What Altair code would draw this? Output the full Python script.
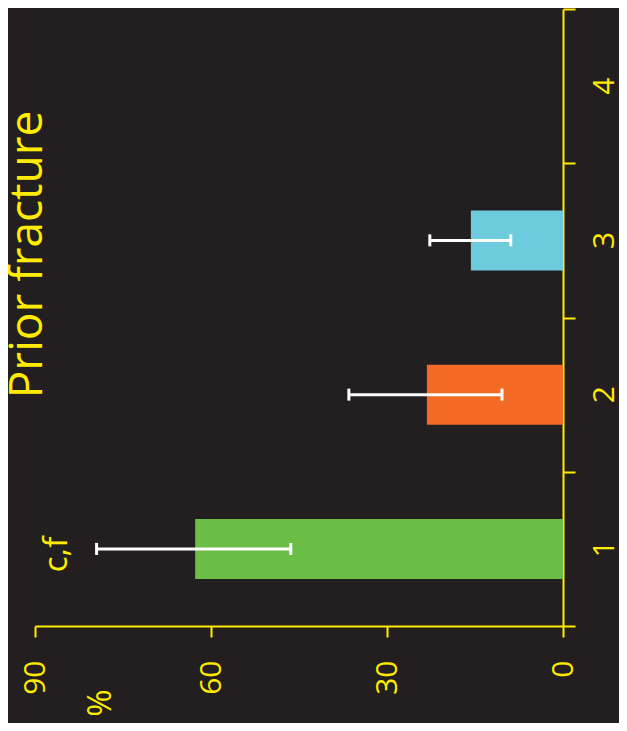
import altair as alt
import pandas as pd

# ---- data ----
categories = [1, 2, 3]
values = [62.7, 23.2, 15.7]
err_low = [46.4, 10.4, 8.9]
err_high = [79.5, 36.5, 22.7]
bar_colors = ["#6abd45", "#f26a24", "#6dcbdd"]
cat_ticks = [1, 2, 3, 4]
cat_labels = ["1", "2", "3", "4"]
x_ticks = [0, 30, 60, 90]
band_edges = [0.5, 1.5, 2.5, 3.5, 4.5]
annotation_text = ["c,f"]
title_text = ["Prior fracture"]
unit_text = ["%"]

YELLOW = "#ffec00"
BG = "#231f20"
FONT = "Open Sans"

df = pd.DataFrame({"cat": categories, "value": values, "lo": err_low,
                   "hi": err_high, "color": bar_colors})
labels_df = pd.DataFrame({"cat": cat_ticks, "label": cat_labels})
ann_df = pd.DataFrame({"text": annotation_text})
title_df = pd.DataFrame({"t": title_text})
unit_df = pd.DataFrame({"t": unit_text})

x_scale = alt.Scale(domain=[0, 90], reverse=True, nice=False, zero=True, padding=0)
y_scale = alt.Scale(domain=[0.5, 4.5], nice=False, zero=False, padding=0)

x_axis = alt.Axis(values=x_ticks, labelAngle=-90, labelFontSize=30, labelFont=FONT,
                  labelColor=YELLOW, labelPadding=23, tickColor=YELLOW, tickSize=11,
                  tickWidth=2, domainColor=YELLOW, domainWidth=2, grid=False, title=None)
y_axis = alt.Axis(orient="right", values=band_edges, labels=False, tickColor=YELLOW,
                  tickSize=12, tickWidth=2, domainColor=YELLOW, domainWidth=2,
                  grid=False, title=None)

base = alt.Chart(df)

bars = base.mark_bar(size=60, orient="horizontal", opacity=1).encode(
    x=alt.X("value:Q", scale=x_scale, axis=x_axis),
    y=alt.Y("cat:Q", scale=y_scale, axis=y_axis),
    color=alt.Color("color:N", scale=None),
)

err = base.mark_rule(color="white", strokeWidth=3, opacity=1).encode(
    x=alt.X("lo:Q", scale=x_scale, axis=x_axis),
    x2="hi:Q",
    y=alt.Y("cat:Q", scale=y_scale, axis=y_axis),
)

cap_lo = base.mark_tick(orient="vertical", color="white", size=12, thickness=3,
                        opacity=1).encode(
    x=alt.X("lo:Q", scale=x_scale, axis=x_axis),
    y=alt.Y("cat:Q", scale=y_scale, axis=y_axis),
)
cap_hi = base.mark_tick(orient="vertical", color="white", size=12, thickness=3,
                        opacity=1).encode(
    x=alt.X("hi:Q", scale=x_scale, axis=x_axis),
    y=alt.Y("cat:Q", scale=y_scale, axis=y_axis),
)

cat_text = alt.Chart(labels_df).mark_text(
    angle=270, fontSize=30, font=FONT, color=YELLOW, align="center", baseline="alphabetic"
).encode(
    y=alt.Y("cat:Q", scale=y_scale, axis=y_axis),
    x=alt.value(579),
    text="label:N",
)

ann = alt.Chart(ann_df).mark_text(
    angle=270, fontSize=33, font=FONT, color=YELLOW, align="center", baseline="alphabetic"
).encode(x=alt.value(32), y=alt.value(545.5), text="text:N")

title = alt.Chart(title_df).mark_text(
    angle=270, fontSize=46, font=FONT, color=YELLOW, align="center", baseline="alphabetic"
).encode(x=alt.value(7), y=alt.value(245.5), text="t:N")

unit = alt.Chart(unit_df).mark_text(
    angle=270, fontSize=33, font=FONT, color=YELLOW, align="center", baseline="alphabetic"
).encode(x=alt.value(76), y=alt.value(694), text="t:N")

chart = alt.layer(bars, err, cap_lo, cap_hi, cat_text, ann, title, unit).properties(
    width=528,
    height=617,
    padding={"left": 27, "top": 1, "right": 56, "bottom": 97},
    autosize=alt.AutoSizeParams(type="none"),
    background=BG,
).configure_view(stroke="transparent")

chart.save("out.html", embed_options={"renderer": "svg", "actions": False})
